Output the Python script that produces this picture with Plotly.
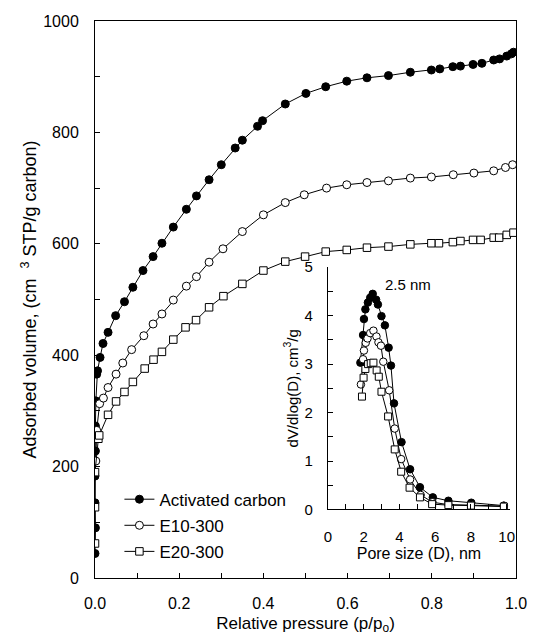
import plotly.graph_objects as go

# ---------------- Main isotherm data ----------------
ac_p = [0.000, 0.001, 0.000, 0.000, 0.001, 0.001, 0.002, 0.004, 0.006, 0.012, 0.019, 0.031, 0.049,
        0.070, 0.090, 0.114, 0.138, 0.159, 0.186, 0.217, 0.241, 0.271, 0.300, 0.333, 0.350, 0.386,
        0.398, 0.452, 0.501, 0.548, 0.598, 0.646, 0.697, 0.749, 0.799, 0.819, 0.850, 0.868, 0.898,
        0.919, 0.947, 0.961, 0.978, 0.989, 0.994]
ac_v = [44, 90, 135, 183, 228, 273, 318, 366, 372, 396, 421, 441, 471,
        496, 522, 552, 577, 601, 630, 662, 686, 715, 742, 772, 786, 811,
        821, 851, 870, 882, 892, 898, 902, 908, 912, 914, 918, 919, 922,
        924, 930, 932, 937, 941, 944]

e10_p = [0.002, 0.004, 0.011, 0.020, 0.031, 0.050, 0.066, 0.087, 0.116, 0.138, 0.159, 0.186,
         0.217, 0.241, 0.271, 0.304, 0.350, 0.400, 0.452, 0.497, 0.550, 0.598, 0.646, 0.697,
         0.749, 0.799, 0.851, 0.900, 0.947, 0.975, 0.992]
e10_v = [210, 265, 313, 323, 342, 366, 386, 410, 435, 456, 474, 499,
         524, 541, 567, 591, 622, 652, 674, 688, 700, 706, 710, 713,
         718, 720, 724, 727, 731, 737, 742]

e20_p = [0.000, 0.000, 0.000, 0.008, 0.010, 0.031, 0.050, 0.070, 0.090, 0.118, 0.139, 0.159,
         0.186, 0.215, 0.240, 0.271, 0.305, 0.350, 0.400, 0.452, 0.499, 0.548, 0.598, 0.646,
         0.697, 0.749, 0.799, 0.817, 0.850, 0.868, 0.898, 0.916, 0.947, 0.960, 0.978, 0.994]
e20_v = [62, 127, 190, 250, 256, 293, 317, 334, 352, 376, 392, 406,
         428, 450, 463, 486, 506, 528, 552, 568, 577, 586, 589, 593,
         595, 599, 601, 601, 603, 605, 607, 607, 611, 611, 616, 620]

# ---------------- Inset pore size distribution ----------------
ac_d = [1.82, 1.97, 2.02, 2.10, 2.24, 2.37, 2.51, 2.70, 2.80, 3.00, 3.19, 3.40, 3.53, 3.70,
        4.12, 4.60, 5.15, 5.87, 6.74, 8.02, 9.84]
ac_dv = [3.03, 3.60, 3.93, 4.13, 4.27, 4.37, 4.45, 4.33, 4.23, 3.99, 3.80, 3.34, 2.97, 2.19,
         1.39, 0.83, 0.46, 0.25, 0.18, 0.14, 0.08]

e10_d = [1.85, 1.97, 2.02, 2.12, 2.22, 2.37, 2.55, 2.72, 2.83, 2.97, 3.10, 3.43, 3.74, 4.10,
         4.60, 5.19, 5.85, 6.74, 8.00, 9.84]
e10_dv = [2.58, 3.10, 3.28, 3.44, 3.53, 3.64, 3.69, 3.57, 3.45, 3.38, 3.05, 2.46, 1.67, 1.04,
          0.62, 0.30, 0.15, 0.10, 0.09, 0.07]

e20_d = [1.91, 2.00, 2.10, 2.25, 2.40, 2.55, 2.73, 2.85, 3.00, 3.37, 3.74, 4.10, 4.57, 5.15,
         5.83, 6.74, 8.00, 9.84]
e20_dv = [2.33, 2.72, 2.90, 3.00, 3.02, 3.03, 2.87, 2.74, 2.43, 1.92, 1.24, 0.78, 0.45, 0.25,
          0.11, 0.09, 0.08, 0.06]

names = ["Activated carbon", "E10-300", "E20-300"]
main_x = [ac_p, e10_p, e20_p]
main_y = [ac_v, e10_v, e20_v]
ins_x = [ac_d, e10_d, e20_d]
ins_y = [ac_dv, e10_dv, e20_dv]

FONT = "Arial, Liberation Sans, sans-serif"
styles = [
    dict(symbol="circle", color="black", size=8),
    dict(symbol="circle", color="white", size=8),
    dict(symbol="square", color="white", size=7.5),
]

fig = go.Figure()
for i in range(3):
    st = styles[i]
    fig.add_trace(go.Scatter(
        x=main_x[i], y=main_y[i], mode="lines+markers", name=names[i],
        legendgroup=names[i],
        line=dict(color="black", width=1),
        marker=dict(symbol=st["symbol"], size=st["size"], color=st["color"],
                    line=dict(color="black", width=1)),
        xaxis="x", yaxis="y"))
for i in range(3):
    st = styles[i]
    fig.add_trace(go.Scatter(
        x=ins_x[i], y=ins_y[i], mode="lines+markers", showlegend=False,
        line=dict(color="black", width=1),
        marker=dict(symbol=st["symbol"], size=st["size"] - 0.5, color=st["color"],
                    line=dict(color="black", width=1)),
        xaxis="x2", yaxis="y2"))

axis_common = dict(showline=True, linecolor="black", linewidth=1, ticks="inside",
                   tickcolor="black", ticklen=5, showgrid=False, zeroline=False,
                   tickfont=dict(family=FONT, size=16, color="black"))

fig.update_layout(
    width=539, height=641,
    margin=dict(l=95, r=13, t=17, b=61),
    paper_bgcolor="white", plot_bgcolor="white",
    font=dict(family=FONT, color="black"),
    showlegend=True,
    legend=dict(x=0.058, y=0.173, xanchor="left", yanchor="top",
                bgcolor="rgba(0,0,0,0)", font=dict(family=FONT, size=17, color="black"),
                tracegroupgap=1),
    xaxis=dict(**axis_common, domain=[0, 1], range=[0, 1], dtick=0.2, tickformat=".1f",
               mirror=True, ticklabelstandoff=11,
               minor=dict(dtick=0.1, ticks="inside", ticklen=5, tickcolor="black"),
               title=dict(text="Relative pressure (p/p<sub>o</sub>)",
                          font=dict(family=FONT, size=17, color="black"), standoff=5)),
    yaxis=dict(**axis_common, domain=[0, 1], range=[0, 1000], dtick=200,
               mirror=True, ticklabelstandoff=12,
               minor=dict(dtick=100, ticks="inside", ticklen=5, tickcolor="black"),
               title=dict(text="Adsorbed volume, (cm  <sup>3</sup> STP/g carbon)",
                          font=dict(family=FONT, size=18, color="black"), standoff=1)),
    xaxis2=dict(showline=True, linecolor="black", linewidth=1, ticks="inside",
                tickcolor="black", ticklen=5, showgrid=False, zeroline=False,
                tickfont=dict(family=FONT, size=15, color="black"),
                anchor="y2", domain=[0.553, 0.986], range=[0, 10.19], dtick=2,
                ticklabelstandoff=14,
                minor=dict(dtick=1, ticks="inside", ticklen=5, tickcolor="black"),
                title=dict(text="Pore size (D), nm",
                           font=dict(family=FONT, size=16, color="black"), standoff=1)),
    yaxis2=dict(showline=True, linecolor="black", linewidth=1, ticks="inside",
                tickcolor="black", ticklen=5, showgrid=False, zeroline=False,
                tickfont=dict(family=FONT, size=15, color="black"),
                anchor="x2", domain=[0.123, 0.558], range=[0, 5], dtick=1,
                ticklabelstandoff=11,
                minor=dict(dtick=0.5, ticks="inside", ticklen=5, tickcolor="black"),
                title=dict(text="dV/dlog(D), cm<sup>3</sup>/g",
                           font=dict(family=FONT, size=15, color="black"), standoff=2)),
    annotations=[dict(x=4.46, y=4.65, xref="x2", yref="y2", text="2.5 nm",
                      showarrow=False, font=dict(family=FONT, size=15, color="black"))],
)

fig.write_html("out.html")
